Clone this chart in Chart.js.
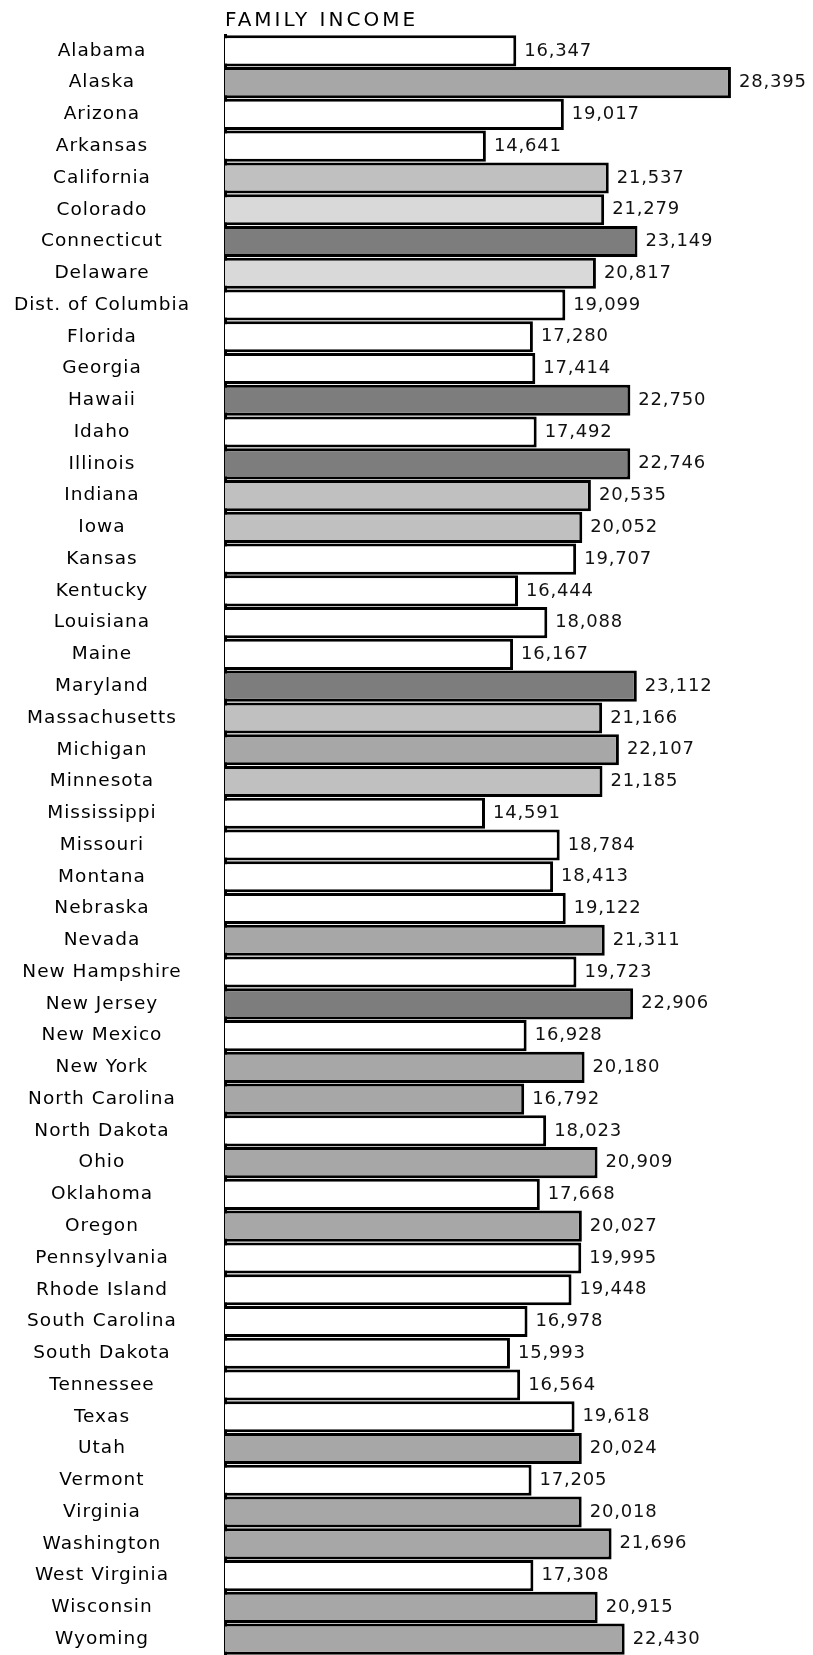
<!DOCTYPE html>
<html>
<head>
<meta charset="utf-8">
<script src="https://cdn.jsdelivr.net/npm/chart.js@4/dist/chart.umd.min.js"></script>
<style>
  html, body { margin: 0; padding: 0; background: #ffffff; }
  #wrap { width: 813px; height: 1655px; position: relative; }
</style>
</head>
<body>
<div id="wrap"><canvas id="c"></canvas></div>
<script>
const states = ["Alabama","Alaska","Arizona","Arkansas","California","Colorado","Connecticut","Delaware",
  "Dist. of Columbia","Florida","Georgia","Hawaii","Idaho","Illinois","Indiana","Iowa","Kansas","Kentucky",
  "Louisiana","Maine","Maryland","Massachusetts","Michigan","Minnesota","Mississippi","Missouri","Montana",
  "Nebraska","Nevada","New Hampshire","New Jersey","New Mexico","New York","North Carolina","North Dakota",
  "Ohio","Oklahoma","Oregon","Pennsylvania","Rhode Island","South Carolina","South Dakota","Tennessee",
  "Texas","Utah","Vermont","Virginia","Washington","West Virginia","Wisconsin","Wyoming"];

const familyIncome = [16347,28395,19017,14641,21537,21279,23149,20817,
  19099,17280,17414,22750,17492,22746,20535,20052,19707,16444,
  18088,16167,23112,21166,22107,21185,14591,18784,18413,
  19122,21311,19723,22906,16928,20180,16792,18023,
  20909,17668,20027,19995,19448,16978,15993,16564,
  19618,20024,17205,20018,21696,17308,20915,22430];

// shading class of each bar as printed (0 = plain, 4 = darkest stipple)
const shadeClass = [0,3,0,0,2,1,4,1,
  0,0,0,4,0,4,2,2,0,0,
  0,0,4,2,3,2,0,0,0,
  0,3,0,4,0,3,3,0,
  3,0,3,0,0,0,0,0,
  0,3,0,3,3,0,3,3];

const chartTitle = "FAMILY INCOME";

const shadeColors = ["#ffffff", "#d9d9d9", "#c0c0c0", "#a7a7a7", "#7d7d7d"];
const FONT = "'DejaVu Sans', 'Liberation Sans', sans-serif";

const textPlugin = {
  id: 'textPlugin',
  beforeLayout(chart) { chart.ctx.letterSpacing = '1px'; },
  beforeDraw(chart) { chart.ctx.letterSpacing = '1px'; },
  afterDatasetsDraw(chart) {
    const ctx = chart.ctx;
    const meta = chart.getDatasetMeta(0);
    ctx.save();
    ctx.letterSpacing = '0.8px';
    ctx.font = "18px " + FONT;
    ctx.fillStyle = "#111111";
    ctx.textAlign = "left";
    ctx.textBaseline = "middle";
    meta.data.forEach((bar, i) => {
      ctx.fillText(familyIncome[i].toLocaleString('en-US'), bar.x + 8, bar.y);
    });
    ctx.restore();
  },
  afterDraw(chart) {
    const ctx = chart.ctx;
    ctx.save();
    ctx.letterSpacing = '3px';
    ctx.font = "20px " + FONT;
    ctx.fillStyle = "#000000";
    ctx.textAlign = "left";
    ctx.textBaseline = "alphabetic";
    ctx.fillText(chartTitle, chart.chartArea.left, chart.chartArea.top - 9);
    ctx.restore();
    ctx.letterSpacing = '0px';
  }
};

new Chart(document.getElementById('c'), {
  type: 'bar',
  data: {
    labels: states,
    datasets: [{
      data: familyIncome,
      backgroundColor: shadeClass.map(s => shadeColors[s]),
      borderColor: "#000000",
      borderWidth: 3,
      borderSkipped: 'start',
      barPercentage: 0.98,
      categoryPercentage: 1.0
    }]
  },
  options: {
    indexAxis: 'y',
    responsive: true,
    maintainAspectRatio: false,
    animation: false,
    devicePixelRatio: 1,
    layout: { padding: { top: 35, left: 0, right: 0, bottom: 0 } },
    plugins: {
      legend: { display: false },
      title: { display: false },
      tooltip: { enabled: false }
    },
    scales: {
      x: {
        display: false,
        min: 0,
        max: 33000
      },
      y: {
        type: 'category',
        grid: { display: false, drawTicks: false },
        border: { display: true, color: "#000000", width: 3 },
        ticks: {
          font: { family: FONT, size: 18.5 },
          color: "#000000",
          crossAlign: 'center',
          padding: 35,
          autoSkip: false
        },
        afterFit(scale) {
          scale.width = 225;
          scale.paddingTop = 0;
          scale.paddingBottom = 0;
        }
      }
    }
  },
  plugins: [textPlugin]
});
</script>
</body>
</html>
